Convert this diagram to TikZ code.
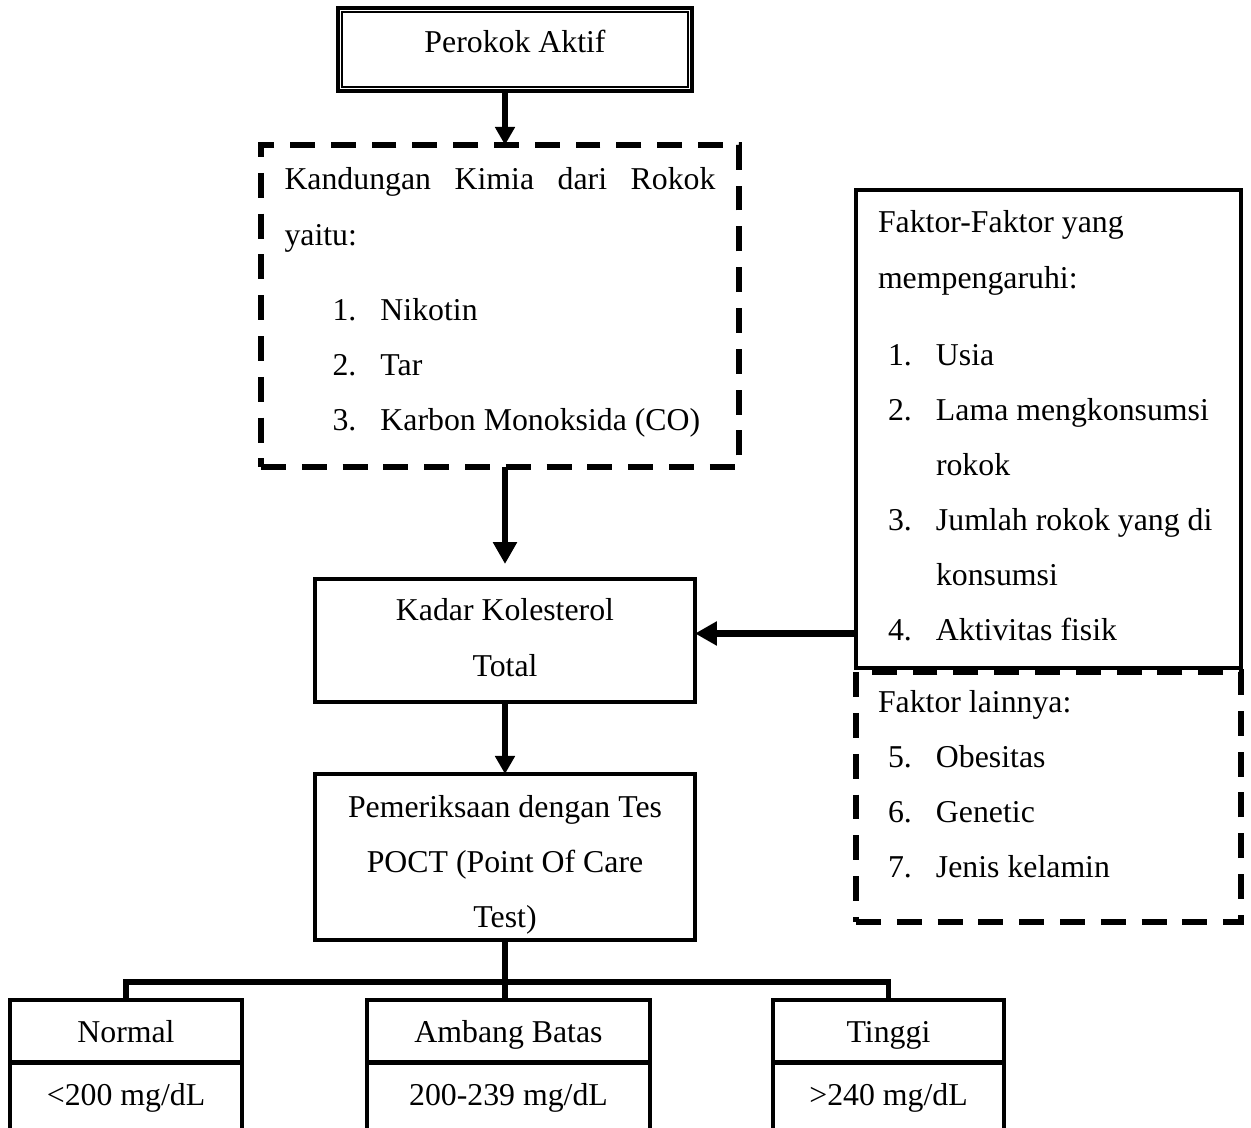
\documentclass[tikz,border=0pt]{standalone}
\usepackage{fontspec}
\setmainfont{Liberation Serif}
\usetikzlibrary{arrows.meta, positioning, calc}

\newdimen\pxu
\pxu=0.3774pt
\newcommand{\itemno}[2][10\pxu]{\hspace*{#1}\makebox[48\pxu][l]{#2}}

\begin{document}
\begin{tikzpicture}[
      x=0.3774pt, y=-0.3774pt,
      every node/.style={font=\fontsize{12pt}{20.76pt}\selectfont, inner ysep=0pt, outer sep=0pt},
      frame/.style={rectangle, draw, line width=1.8pt, inner xsep=0pt},
      textframe/.style={rectangle, draw, line width=1.8pt, align=flush center, text width=350\pxu, inner xsep=15\pxu},
      listframe/.style={rectangle, draw, line width=1.8pt, align=flush left, text width=341\pxu, inner xsep=22\pxu},
      dashframe/.style={listframe, line width=1.9pt, dash pattern=on 9.4pt off 6pt},
      arrow/.style={line width=2.5pt, -{Triangle[length=8.3pt, width=8.7pt]}},
      smallarrow/.style={line width=2.5pt, -{Triangle[length=6.8pt, width=7.2pt]}},
      branch/.style={line width=1.9pt}
    ]
    \useasboundingbox (0,0) rectangle (1251,1128);
    \clip (0,0) rectangle (1251,1128);

    % Kotak utama
    \node (smoker) [frame, minimum width=354\pxu, text height=45\pxu, text depth=38\pxu, anchor=base] at (515,53) {Perokok Aktif};
    \draw [line width=0.4pt] ([shift={(4,4)}]smoker.north west) rectangle ([shift={(-4,-4)}]smoker.south east);

    \node (chem) [dashframe, text width=431\pxu, inner xsep=23.5\pxu, text height=45\pxu, text depth=277\pxu, anchor=north] at (500,145)
      {Kandungan\hfill Kimia\hfill dari\hfill Rokok\\ yaitu:\\[20\pxu]
       \itemno[48\pxu]{1.}Nikotin\\ \itemno[48\pxu]{2.}Tar\\ \itemno[48\pxu]{3.}\mbox{Karbon Monoksida (CO)}};

    \node (kadar) [textframe, text height=42\pxu, text depth=81\pxu, anchor=north] at (505,579) {Kadar Kolesterol\\ Total};
    \node (poct) [textframe, text height=43\pxu, text depth=123\pxu, anchor=north] at (505,774) {Pemeriksaan dengan Tes\\ POCT (Point Of Care\\ Test)};

    % Faktor-faktor
    \node (factors) [listframe, text height=43\pxu, text depth=435\pxu, anchor=north] at (1048.5,190)
      {Faktor-Faktor yang\\ mempengaruhi:\\[22\pxu]
       \itemno{1.}Usia\\ \itemno{2.}\mbox{Lama mengkonsumsi}\\ \hspace*{58\pxu}rokok\\
       \itemno{3.}\mbox{Jumlah rokok yang di}\\ \hspace*{58\pxu}konsumsi\\ \itemno{4.}Aktivitas fisik};
    \node (others) [dashframe, text height=40\pxu, text depth=210\pxu, anchor=north] at (1048.5,672)
      {Faktor lainnya:\\ \itemno{5.}Obesitas\\ \itemno{6.}Genetic\\ \itemno{7.}Jenis kelamin};

    % Hasil
    \node (normal) [frame, minimum width=232\pxu, text height=42\pxu, text depth=20.5\pxu, anchor=north] at (126,1000) {Normal};
    \node (normalval) [frame, minimum width=232\pxu, text height=43\pxu, text depth=35\pxu, below=0pt of normal] {<200 mg/dL};
    \node (ambang) [frame, minimum width=283\pxu, text height=42\pxu, text depth=20.5\pxu, anchor=north] at (508.5,1000) {Ambang Batas};
    \node (ambangval) [frame, minimum width=283\pxu, text height=43\pxu, text depth=35\pxu, below=0pt of ambang] {200-239 mg/dL};
    \node (tinggi) [frame, minimum width=231\pxu, text height=42\pxu, text depth=20.5\pxu, anchor=north] at (888.5,1000) {Tinggi};
    \node (tinggival) [frame, minimum width=231\pxu, text height=43\pxu, text depth=35\pxu, below=0pt of tinggi] {>240 mg/dL};

    % Panah
    \draw [smallarrow] (smoker.south -| kadar.north) -- (chem.north -| kadar.north);
    \draw [arrow, shorten >=15\pxu] (chem.south -| kadar.north) -- (kadar.north);
    \draw [smallarrow] (kadar.south) -- (poct.north);
    \coordinate (into) at ([yshift=7\pxu]kadar.east);
    \draw [arrow] (factors.west |- into) -- (into);

    % Cabang ke hasil
    \coordinate (fork) at ($(poct.south)+(0,42)$);
    \draw [branch] (poct.south) -- (fork);
    \draw [branch] (normal.north) -- (normal.north |- fork) -- (tinggi.north |- fork) -- (tinggi.north);
    \draw [branch] (fork) -- (fork |- ambang.north);

  \end{tikzpicture}
\end{document}
